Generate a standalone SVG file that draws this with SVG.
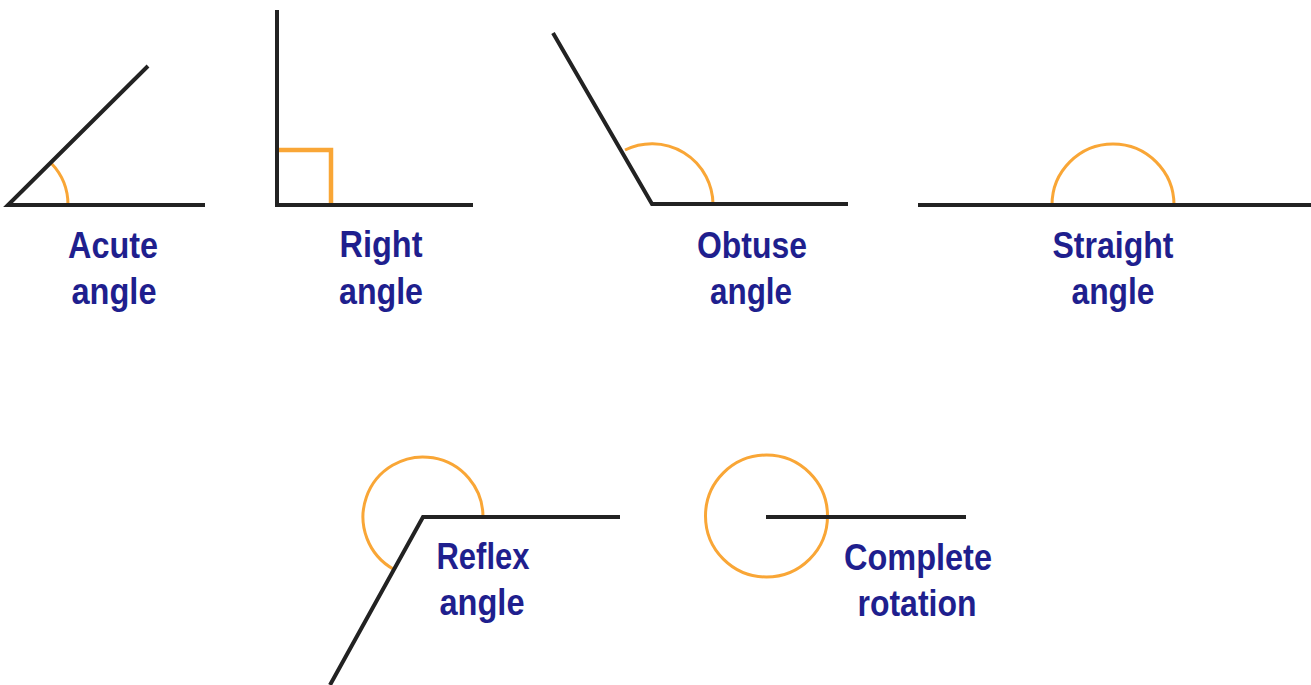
<svg xmlns="http://www.w3.org/2000/svg" width="1311" height="685" viewBox="0 0 1311 685">
<style>
.ln{stroke:#222;stroke-width:4;fill:none;stroke-linecap:butt;stroke-linejoin:miter}
.arc{stroke:#f9a636;stroke-width:3;fill:none}
.sq{stroke:#f9a636;stroke-width:4.5;fill:none}
.lbl{font-family:"Liberation Sans",Arial,sans-serif;font-weight:bold;font-size:36px;fill:#1f1f8e;text-anchor:middle}
</style>
<rect width="1311" height="685" fill="#fff"/>
<g id="acute">
<path class="arc" d="M68,205 A60,60 0 0 0 51.5,163.5"/>
<path class="ln" d="M148,66 L8,205 L205,205"/>
<text class="lbl" x="113" y="258" textLength="90" lengthAdjust="spacingAndGlyphs">Acute</text>
<text class="lbl" x="114" y="304" textLength="85" lengthAdjust="spacingAndGlyphs">angle</text>
</g>
<g id="right">
<path class="sq" d="M277,150 L331,150 L331,205"/>
<path class="ln" d="M277,10 L277,205 L473,205"/>
<text class="lbl" x="381" y="257" textLength="83" lengthAdjust="spacingAndGlyphs">Right</text>
<text class="lbl" x="381" y="304" textLength="84" lengthAdjust="spacingAndGlyphs">angle</text>
</g>
<g id="obtuse">
<path class="arc" d="M713,204 A61,61 0 0 0 625,150"/>
<path class="ln" d="M553,33 L652,204 L848,204"/>
<text class="lbl" x="752" y="258" textLength="110" lengthAdjust="spacingAndGlyphs">Obtuse</text>
<text class="lbl" x="751" y="304" textLength="82" lengthAdjust="spacingAndGlyphs">angle</text>
</g>
<g id="straight">
<path class="arc" d="M1174,205 A61,61 0 0 0 1052,205"/>
<path class="ln" d="M918,205 L1311,205"/>
<text class="lbl" x="1113" y="258" textLength="121" lengthAdjust="spacingAndGlyphs">Straight</text>
<text class="lbl" x="1113" y="304" textLength="83" lengthAdjust="spacingAndGlyphs">angle</text>
</g>
<g id="reflex">
<path class="arc" d="M483,517 A60,60 0 1 0 394,569.5"/>
<path class="ln" d="M620,517 L423,517 L330,685"/>
<text class="lbl" x="483" y="569" textLength="93" lengthAdjust="spacingAndGlyphs">Reflex</text>
<text class="lbl" x="482" y="615" textLength="85" lengthAdjust="spacingAndGlyphs">angle</text>
</g>
<g id="complete">
<circle class="arc" cx="766.5" cy="516" r="61"/>
<path class="ln" d="M766,517 L966,517"/>
<text class="lbl" x="918" y="570" textLength="148" lengthAdjust="spacingAndGlyphs">Complete</text>
<text class="lbl" x="917" y="616" textLength="119" lengthAdjust="spacingAndGlyphs">rotation</text>
</g>
<g id="connectors"></g>
</svg>
